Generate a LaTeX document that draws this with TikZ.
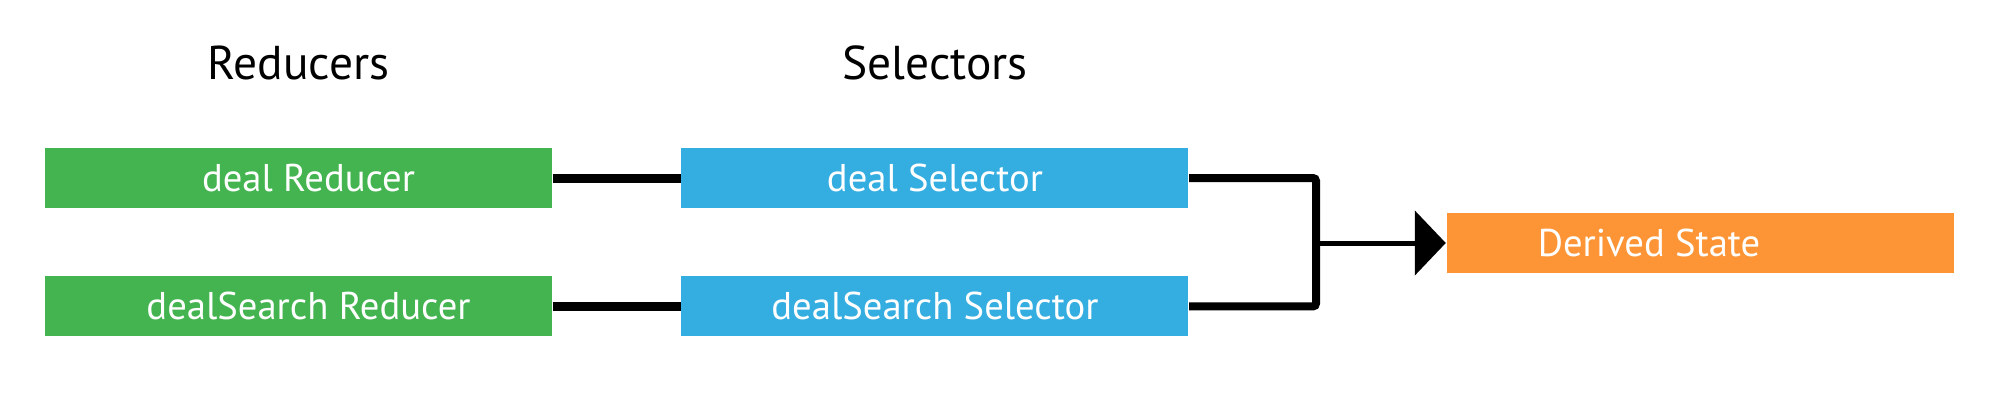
\documentclass[tikz,border=0pt]{standalone}
\usepackage{fontspec}
\setmainfont{PT Sans}
\usetikzlibrary{positioning, arrows.meta}
\definecolor{redgreen}{RGB}{68,180,80}
\definecolor{selblue}{RGB}{52,173,225}
\definecolor{derorange}{RGB}{253,149,54}

\begin{document}
\begin{tikzpicture}[
    box/.style={minimum width=5.07cm, minimum height=0.60cm, inner sep=0pt, text=white, font=\fontsize{11}{13}\selectfont},
    title/.style={font=\fontsize{13.5}{16}\selectfont, anchor=base},
    link/.style={line width=0.09cm}]
    \useasboundingbox (0,0) rectangle (20,4.03);
    \node[box, fill=redgreen] (dealred) at (2.985,2.25) {\hspace*{0.2cm}deal Reducer};
    \node[box, fill=redgreen, below=0.67cm of dealred] (searchred) {\hspace*{0.2cm}dealSearch Reducer};
    \node[box, fill=selblue, right=1.28cm of dealred] (dealsel) {deal Selector};
    \node[box, fill=selblue, right=1.28cm of searchred] (searchsel) {dealSearch Selector};
    \node[box, fill=derorange] (derived) at (17.0,1.60) {\hspace*{-1.02cm}Derived State};
    \node[title] (redtitle) at ([yshift=0.68cm]dealred.north) {Reducers};
    \node[title] (seltitle) at ([yshift=0.68cm]dealsel.north) {Selectors};
    \coordinate (join) at (13.16,1.60);
    \draw[link] (dealred) -- (dealsel);
    \draw[link] (searchred) -- (searchsel);
    \draw[line width=0.08cm, rounded corners=0.03cm] (dealsel.east) -| (join) |- (searchsel.east);
    \draw[line width=0.05cm, -{Triangle[length=0.31cm, width=0.64cm]}] (join) -- (derived.west);
\end{tikzpicture}
\end{document}
